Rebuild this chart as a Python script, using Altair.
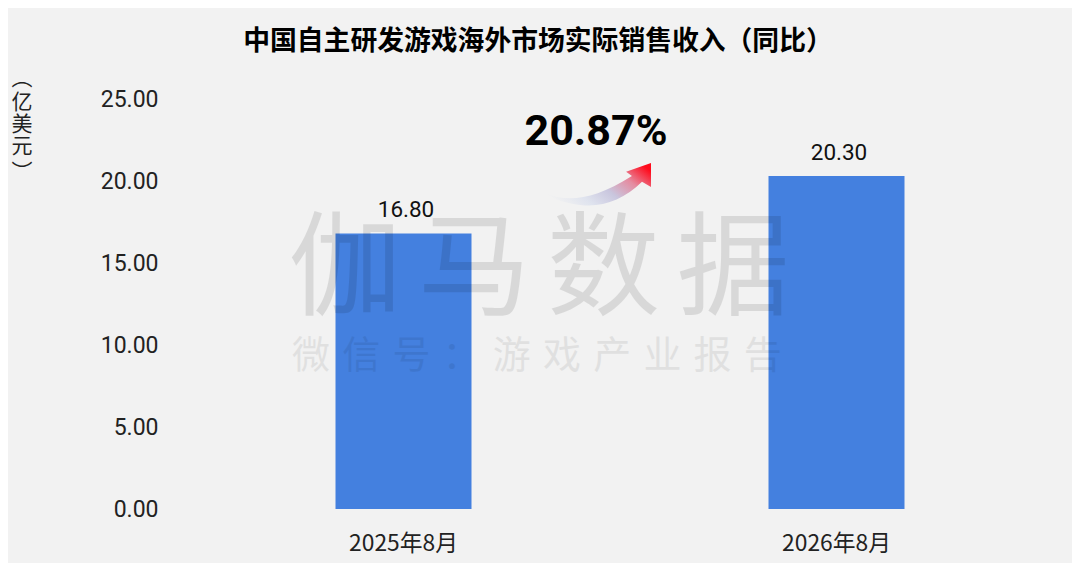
import altair as alt
import pandas as pd

# 数据
months = ["2025年8月", "2026年8月"]
revenue = [16.80, 20.30]
y_ticks = [0, 5, 10, 15, 20, 25]
title_text = "中国自主研发游戏海外市场实际销售收入（同比）"
growth_text = "20.87%"
unit_chars = ["︵", "亿", "美", "元", "︶"]
mark_big = ["伽", "马", "数", "据"]
mark_small = ["微", "信", "号", "：", "游", "戏", "产", "业", "报", "告"]

FONT = "Noto Sans CJK SC"
NUM_FONT = "Roboto"
LEFT, TOP = 179, 91
W, H = 866, 410

df = pd.DataFrame({"month": months, "revenue": revenue})

x = alt.X("month:N", title=None, sort=months,
          scale=alt.Scale(paddingInner=0, paddingOuter=0),
          axis=alt.Axis(labelAngle=0, labelFont=FONT, labelFontSize=22.8, labelColor="#222222",
                        labelPadding=23, domain=False, ticks=False))
y = alt.Y("revenue:Q", title=None,
          scale=alt.Scale(domain=[0, 25]),
          axis=alt.Axis(values=y_ticks, format=".2f", labelFont=NUM_FONT, labelFontSize=23,
                        labelColor="#222222", labelPadding=29,
                        domain=False, ticks=False, grid=False))

bars = alt.Chart(df).mark_bar(size=136, color="#4480df").encode(x=x, y=y)

value_labels = alt.Chart(df).mark_text(
    font=NUM_FONT, fontSize=22.5, color="#111111", baseline="bottom", dx=2.5, dy=-11
).encode(x=x, y=y, text=alt.Text("revenue:Q", format=".2f"))


# 固定位置的文字（水印、单位、涨幅）
def text_at(txt, px, py, **kw):
    return alt.Chart(pd.DataFrame({"t": [txt]})).mark_text(
        align="center", baseline="middle", **kw
    ).encode(x=alt.value(px - LEFT - 8), y=alt.value(py - TOP - 8), text="t:N")


layers = [bars, value_labels]

for i, ch in enumerate(mark_big):
    layers.append(text_at(ch, 345 + i * 129.3, 272, font=FONT, fontSize=113, fontWeight=400,
                          color="#000000", opacity=0.1))
for i, ch in enumerate(mark_small):
    layers.append(text_at(ch, 311 + i * 50.2, 357, font=FONT, fontSize=38, fontWeight=400,
                          color="#000000", opacity=0.07))

# 纵轴单位，竖排
for ch, py in zip(unit_chars, [79, 103, 125, 147, 173]):
    layers.append(text_at(ch, 22, py, font=FONT, fontSize=21, color="#222222"))

layers.append(text_at(growth_text, 596, 132, font=NUM_FONT, fontSize=43, fontWeight="bold",
                      color="#000000"))

# 弯曲箭头
arrow_path = ("M-1 0.15 C-0.6 0.33 -0.1 0.3 0.64 -0.17 L0.53 -0.25 L1 -0.415 L1 0.04 L0.83 -0.06 "
              "C0.5 0.27 0.1 0.42 -0.3 0.38 C-0.6 0.35 -0.85 0.27 -1 0.15 Z")
arrow_fill = alt.Gradient(
    gradient="linear", x1=0, y1=0.7, x2=1, y2=0.2,
    stops=[
        alt.GradientStop(offset=0, color="#f2f2f2"),
        alt.GradientStop(offset=0.25, color="#dfe3ee"),
        alt.GradientStop(offset=0.5, color="#c9c6de"),
        alt.GradientStop(offset=0.75, color="#e58ba0"),
        alt.GradientStop(offset=1, color="#ff0b1c"),
    ],
)
layers.append(
    alt.Chart(pd.DataFrame({"a": [1]})).mark_point(
        shape=arrow_path, filled=True, fill=arrow_fill, opacity=1, size=11236, strokeWidth=0
    ).encode(x=alt.value(598 - LEFT - 8), y=alt.value(185 - TOP - 8))
)

chart = alt.layer(*layers).properties(
    width=W,
    height=H,
    padding={"left": LEFT, "top": TOP, "right": 19, "bottom": 54},
    autosize=alt.AutoSizeParams(type="none"),
    background="#f2f2f2",
    title=alt.TitleParams(title_text, font=FONT, fontSize=26.8, fontWeight="bold", color="#000000",
                          anchor="middle", dx=-82, offset=12),
).configure_view(stroke=None)

chart.save("out.html", embed_options={"renderer": "svg", "actions": False})
